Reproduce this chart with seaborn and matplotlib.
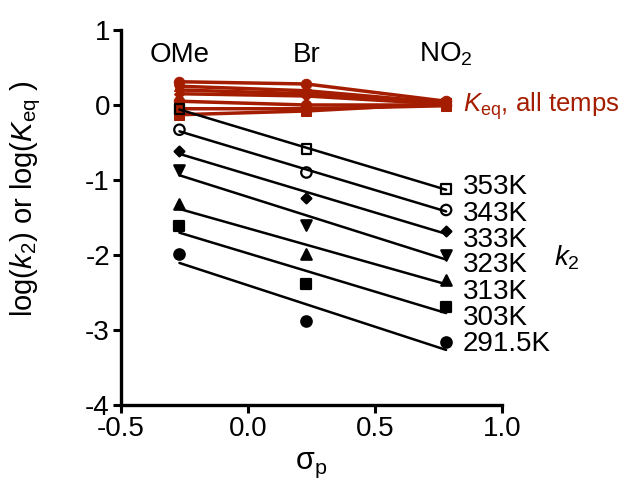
import matplotlib
matplotlib.use("Agg")
import matplotlib.pyplot as plt
import seaborn as sns
import pandas as pd
import numpy as np

# ---- data ----
sigma_p = [-0.27, 0.23, 0.78]
substituents = ["OMe", "Br", "NO$_2$"]
temps = ["353K", "343K", "333K", "323K", "313K", "303K", "291.5K"]
logk2_353 = [-0.05, -0.59, -1.12]
logk2_343 = [-0.33, -0.90, -1.40]
logk2_333 = [-0.61, -1.24, -1.68]
logk2_323 = [-0.87, -1.60, -2.00]
logk2_313 = [-1.32, -1.99, -2.33]
logk2_303 = [-1.61, -2.39, -2.69]
logk2_2915 = [-1.99, -2.88, -3.16]
logKeq_353 = [-0.05, -0.05, -0.01]
logKeq_343 = [0.05, 0.00, 0.00]
logKeq_333 = [0.15, 0.12, 0.01]
logKeq_323 = [0.20, 0.15, 0.02]
logKeq_313 = [0.25, 0.19, 0.03]
logKeq_303 = [-0.13, -0.08, 0.02]
logKeq_2915 = [0.31, 0.28, 0.05]

k2_series = [logk2_353, logk2_343, logk2_333, logk2_323, logk2_313, logk2_303, logk2_2915]
keq_series = [logKeq_353, logKeq_343, logKeq_333, logKeq_323, logKeq_313, logKeq_303, logKeq_2915]

markers = ["s", "o", "D", "v", "^", "s", "o"]
filled = [False, False, True, True, True, True, True]
msizes = [7, 7.5, 5, 7.5, 7.5, 7, 7.5]
red = "#A51D00"

sns.set_theme(style="ticks")
plt.rcParams["font.family"] = ["Liberation Sans", "DejaVu Sans"]
plt.rcParams["mathtext.fontset"] = "custom"
plt.rcParams["mathtext.rm"] = "Liberation Sans"
plt.rcParams["mathtext.it"] = "Liberation Sans:italic"
plt.rcParams["mathtext.default"] = "regular"
for key in ["text.color", "axes.labelcolor", "xtick.color", "ytick.color",
            "axes.edgecolor", "xtick.labelcolor", "ytick.labelcolor"]:
    plt.rcParams[key] = "black"

fig = plt.figure(figsize=(6.28, 4.86), dpi=100)
ax = fig.add_axes([0.1927, 0.1667, 0.6066, 0.7716])

# Keq (red, connected)
for vals, m, ms in zip(keq_series, markers, msizes):
    df = pd.DataFrame({"x": sigma_p, "y": vals})
    sns.lineplot(data=df, x="x", y="y", ax=ax, color=red, lw=2.5,
                 marker=m, markersize=ms, markeredgecolor=red,
                 markerfacecolor=red, zorder=2, sort=False)

# k2 (black, regression)
for vals, m, f, ms in zip(k2_series, markers, filled, msizes):
    df = pd.DataFrame({"x": sigma_p, "y": vals})
    sns.regplot(data=df, x="x", y="y", ax=ax, ci=None, color="black",
                marker=m, truncate=True,
                scatter_kws=dict(s=ms ** 2, facecolors="black" if f else "none",
                                 edgecolors="black", linewidths=1.6, alpha=1,
                                 zorder=4),
                line_kws=dict(lw=1.8, zorder=3))

ax.set_xlim(-0.5, 1.0)
ax.set_ylim(-4, 1)
ax.set_xticks([-0.5, 0.0, 0.5, 1.0])
ax.set_xticklabels(["-0.5", "0.0", "0.5", "1.0"])
ax.set_yticks([1, 0, -1, -2, -3, -4])
ax.set_yticklabels(["1", "0", "-1", "-2", "-3", "-4"])
ax.tick_params(labelsize=20, width=2.2, length=6, direction="out", color="black",
               labelcolor="black", pad=2)
for s in ["left", "bottom"]:
    ax.spines[s].set_linewidth(2.4)
    ax.spines[s].set_color("black")
sns.despine(ax=ax)
ax.set_xlabel("σ$_\\mathrm{p}$", fontsize=22, labelpad=6, color="black")
ax.set_ylabel("log($\\mathit{k}_2$) or log($\\mathit{K}_\\mathrm{eq}$ )", fontsize=21,
              color="black")
ax.yaxis.set_label_coords(-0.205, 0.55)

# substituent labels
for xv, lab in zip(sigma_p, substituents):
    ax.text(xv, 0.67, lab, fontsize=20, ha="center", va="center", color="black")

# temperature labels
label_y = [-1.1, -1.45, -1.8, -2.14, -2.49, -2.84, -3.19]
for ty, lab in zip(label_y, temps):
    ax.text(0.845, ty, lab, fontsize=20, ha="left", va="center", clip_on=False,
            color="black")

ax.text(1.255, -2.04, "$\\mathit{k}_2$", fontsize=20, ha="center", va="center",
        clip_on=False, color="black")
ax.text(0.845, -0.01, "$\\mathit{K}_\\mathrm{eq}$, all temps", fontsize=18.5, ha="left",
        va="center", color=red, clip_on=False)

fig.savefig("out.png", dpi=100)
